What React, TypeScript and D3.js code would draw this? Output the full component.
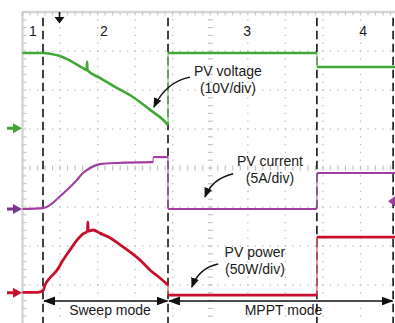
import { useEffect, useRef } from "react";
import * as d3 from "d3";

// scope screen: 10 horizontal divisions, 8 vertical divisions, 0 = centre line
const voltageT = [0, 0.55, 0.73, 1.0, 1.19, 1.61, 1.71, 1.72, 1.73, 2.06, 2.52, 2.94, 3.4, 3.75, 3.875, 3.875, 7.84, 7.84, 10];
const voltageV = [2.95, 2.95, 2.93, 2.87, 2.79, 2.56, 2.51, 2.72, 2.51, 2.31, 2.05, 1.82, 1.49, 1.23, 1.1, 2.95, 2.95, 2.59, 2.59];

const currentT = [0, 0.55, 0.73, 0.95, 1.19, 1.4, 1.61, 1.8, 2.06, 2.52, 3.48, 3.48, 3.875, 3.875, 7.84, 7.84, 10];
const currentV = [-1.05, -1.03, -0.95, -0.77, -0.56, -0.36, -0.13, 0, 0.1, 0.13, 0.15, 0.28, 0.28, -1.05, -1.05, -0.13, -0.13];

const powerT = [0, 0.4, 0.55, 0.6, 0.73, 0.92, 1.08, 1.265, 1.45, 1.61, 1.73, 1.74, 1.75, 1.88, 2.06, 2.33, 2.6, 2.86, 3.13, 3.4, 3.66, 3.875, 3.875, 7.84, 7.84, 10];
const powerV = [-3.19, -3.19, -3.14, -3.0, -2.82, -2.62, -2.36, -2.1, -1.85, -1.69, -1.62, -1.38, -1.62, -1.59, -1.67, -1.79, -1.97, -2.15, -2.36, -2.62, -2.82, -3.0, -3.26, -3.26, -1.77, -1.77];

const regionBounds = [0.546, 3.875, 7.84, 9.87];
const regionLabels = ["1", "2", "3", "4"];
const modeLabels = ["Sweep mode", "MPPT mode"];
const channelGround = [1.02, -1.05, -3.2];
const triggerLevel = -0.85;
const triggerTime = 0.985;
const annotationText = [
    ["PV voltage", "(10V/div)"],
    ["PV current", "(5A/div)"],
    ["PV power", "(50W/div)"],
];

const FONT = "'Liberation Sans', Arial, sans-serif";

function ScopeChart() {
    const width = 395, height = 323;
    const svgRef = useRef(null);

    useEffect(() => {
        const svg = d3.select(svgRef.current).attr("width", width).attr("height", height);
        svg.selectAll("*").remove();
        draw(svg);
    }, []);

    function draw(svg) {
        const x = d3.scaleLinear().domain([0, 10]).range([22.5, 398]);
        const y = d3.scaleLinear().domain([-4, 4]).range([324, 12]);

        const defs = svg.append("defs");
        defs.append("marker").attr("id", "ah")
            .attr("viewBox", "0 0 10 8").attr("refX", 9).attr("refY", 4)
            .attr("markerWidth", 10).attr("markerHeight", 8)
            .attr("markerUnits", "userSpaceOnUse").attr("orient", "auto")
            .append("path").attr("d", "M0,0 L10,4 L0,8 Z").attr("fill", "#111");
        defs.append("marker").attr("id", "mh")
            .attr("viewBox", "0 0 12 9").attr("refX", 11).attr("refY", 4.5)
            .attr("markerWidth", 12).attr("markerHeight", 9)
            .attr("markerUnits", "userSpaceOnUse").attr("orient", "auto-start-reverse")
            .append("path").attr("d", "M0,0 L12,4.5 L0,9 Z").attr("fill", "#111");

        // graticule
        const grid = svg.append("g");
        const minorT = d3.range(0, 10.001, 0.2);
        const minorV = d3.range(-4, 4.001, 0.2);
        d3.range(1, 10).filter(k => k !== 5).forEach(k => {
            grid.selectAll(null).data(minorV).enter().append("rect")
                .attr("x", x(k) - 0.6).attr("y", d => y(d) - 0.6)
                .attr("width", 1.3).attr("height", 1.3).attr("fill", "#bdbdbd");
        });
        d3.range(-3, 4).filter(j => j !== 0).forEach(j => {
            grid.selectAll(null).data(minorT).enter().append("rect")
                .attr("x", d => x(d) - 0.6).attr("y", y(j) - 0.6)
                .attr("width", 1.3).attr("height", 1.3).attr("fill", "#bdbdbd");
        });
        // centre axes with ticks
        grid.selectAll(null).data(minorV).enter().append("line")
            .attr("x1", x(5) - 2.5).attr("x2", x(5) + 2.5)
            .attr("y1", d => y(d)).attr("y2", d => y(d))
            .attr("stroke", "#c4c4c4").attr("stroke-width", 1.2);
        grid.selectAll(null).data(minorT).enter().append("line")
            .attr("x1", d => x(d)).attr("x2", d => x(d))
            .attr("y1", y(0) - 2.5).attr("y2", y(0) + 2.5)
            .attr("stroke", "#c4c4c4").attr("stroke-width", 1.2);
        // left and top border with minor ticks
        grid.append("line").attr("x1", x(0)).attr("x2", x(0)).attr("y1", y(4)).attr("y2", height)
            .attr("stroke", "#d6d6d6").attr("stroke-width", 2.5);
        grid.append("line").attr("x1", x(0)).attr("x2", width).attr("y1", y(4)).attr("y2", y(4))
            .attr("stroke", "#d6d6d6").attr("stroke-width", 2.5);
        grid.selectAll(null).data(minorV).enter().append("line")
            .attr("x1", x(0)).attr("x2", x(0) + 4)
            .attr("y1", d => y(d)).attr("y2", d => y(d))
            .attr("stroke", "#c8c8c8").attr("stroke-width", 1.2);
        grid.selectAll(null).data(minorT).enter().append("line")
            .attr("x1", d => x(d)).attr("x2", d => x(d))
            .attr("y1", y(4)).attr("y2", y(4) + 3.5)
            .attr("stroke", "#c8c8c8").attr("stroke-width", 1.2);

        // region boundaries
        svg.append("g").selectAll("line").data(regionBounds).enter().append("line")
            .attr("x1", d => x(d)).attr("x2", d => x(d))
            .attr("y1", y(3.85)).attr("y2", height)
            .attr("stroke", "#151515").attr("stroke-width", 1.6)
            .attr("stroke-dasharray", "8.5,4.5");

        // traces
        const line = d3.line().curve(d3.curveMonotoneX);
        function drawTrace(ts, vs, color, jumpColor, w) {
            const pts = ts.map((t, i) => [x(t), y(vs[i])]);
            const runs = [];
            const jumps = [];
            let run = [pts[0]];
            for (let i = 1; i < pts.length; i++) {
                if (ts[i] === ts[i - 1]) {
                    runs.push(run);
                    jumps.push([pts[i - 1], pts[i]]);
                    run = [pts[i]];
                } else {
                    run.push(pts[i]);
                }
            }
            runs.push(run);
            const g = svg.append("g");
            g.selectAll(null).data(jumps).enter().append("line")
                .attr("x1", d => d[0][0]).attr("y1", d => d[0][1])
                .attr("x2", d => d[1][0]).attr("y2", d => d[1][1])
                .attr("stroke", jumpColor).attr("stroke-width", 1.3);
            g.selectAll(null).data(runs).enter().append("path")
                .attr("d", d => line(d)).attr("fill", "none")
                .attr("stroke", color).attr("stroke-width", w)
                .attr("stroke-linejoin", "round");
        }
        drawTrace(voltageT, voltageV, "#41a835", "#86cc78", 2.6);
        drawTrace(currentT, currentV, "#a23da0", "#b767b5", 2.1);
        drawTrace(powerT, powerV, "#c8102e", "#e2606e", 2.8);

        // channel markers
        const markerColors = ["#3fa535", "#7d3590", "#c8102e"];
        svg.append("g").selectAll("path").data(channelGround).enter().append("path")
            .attr("d", d => {
                const yy = y(d);
                return `M7,${yy - 1.5} L13,${yy - 1.5} L13,${yy - 5} L22,${yy} L13,${yy + 5} L13,${yy + 1.5} L7,${yy + 1.5} Z`;
            })
            .attr("fill", (d, i) => markerColors[i]);
        const ty = y(triggerLevel);
        svg.append("path")
            .attr("d", `M${x(10) - 10},${ty} L${x(10) - 3},${ty - 5} L${x(10) - 3},${ty + 5} Z`)
            .attr("fill", "#a23da0");
        const tx = x(triggerTime);
        svg.append("line").attr("x1", tx).attr("x2", tx).attr("y1", 12).attr("y2", 18)
            .attr("stroke", "#111").attr("stroke-width", 1.6);
        svg.append("path").attr("d", `M${tx - 5},17 L${tx + 5},17 L${tx},23.5 Z`).attr("fill", "#111");

        // region numbers
        const labelT = [0.28, 2.17, 5.98, 9.07];
        svg.append("g").selectAll("text").data(regionLabels).enter().append("text")
            .attr("x", (d, i) => x(labelT[i])).attr("y", y(3.385))
            .attr("text-anchor", "middle").attr("font-family", FONT).attr("font-size", 14)
            .attr("fill", "#1a1a1a").text(d => d);

        // annotations
        const annPos = [
            { t: 5.47, v: 2.36, from: [4.46, 2.33], ctrl: [3.82, 2.21], to: [3.5, 1.56] },
            { t: 6.59, v: 0.05, from: [5.61, -0.15], ctrl: [5.05, -0.28], to: [4.86, -0.74] },
            { t: 6.19, v: -2.28, from: [5.21, -2.46], ctrl: [4.7, -2.56], to: [4.51, -3.05] },
        ];
        annotationText.forEach((lines, i) => {
            const p = annPos[i];
            const t = svg.append("text").attr("font-family", FONT).attr("font-size", 14)
                .attr("fill", "#1a1a1a").attr("text-anchor", "middle");
            lines.forEach((s, k) => {
                t.append("tspan").attr("x", x(p.t)).attr("y", y(p.v) + k * 17).text(s);
            });
            svg.append("path")
                .attr("d", `M${x(p.from[0])},${y(p.from[1])} Q${x(p.ctrl[0])},${y(p.ctrl[1])} ${x(p.to[0])},${y(p.to[1])}`)
                .attr("fill", "none").attr("stroke", "#111").attr("stroke-width", 1.5)
                .attr("marker-end", "url(#ah)");
        });

        // mode spans
        const spans = [[regionBounds[0], regionBounds[1]], [regionBounds[1], regionBounds[3]]];
        const modeLabelT = [2.33, 6.95];
        spans.forEach((s, i) => {
            svg.append("line")
                .attr("x1", x(s[0]) + 1).attr("x2", x(s[1]) - 0.5)
                .attr("y1", y(-3.41)).attr("y2", y(-3.41))
                .attr("stroke", "#111").attr("stroke-width", 1.6)
                .attr("marker-start", "url(#mh)").attr("marker-end", "url(#mh)");
            svg.append("text")
                .attr("x", x(modeLabelT[i])).attr("y", y(-3.77))
                .attr("text-anchor", "middle").attr("font-family", FONT).attr("font-size", 14)
                .attr("fill", "#1a1a1a").text(modeLabels[i]);
        });
    }

    return (
        <div style={{ position: "absolute", left: 0, top: 0, background: "#fff" }}>
            <svg ref={svgRef} style={{ display: "block" }}></svg>
        </div>
    );
}

export default function App() {
    return <ScopeChart />;
}
